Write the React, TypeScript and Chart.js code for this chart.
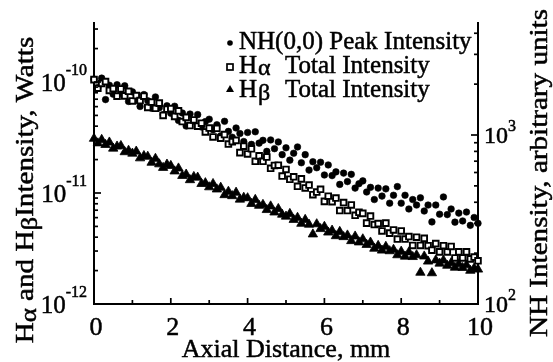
import React, { useEffect, useRef } from 'react';
import { Chart, registerables } from 'chart.js';

Chart.register(...registerables);

// Axial distance, mm
const distanceMm = [
  0, 0.1, 0.2, 0.3, 0.4, 0.5, 0.6, 0.7, 0.8, 0.9,
  1, 1.1, 1.2, 1.3, 1.4, 1.5, 1.6, 1.7, 1.8, 1.9,
  2, 2.1, 2.2, 2.3, 2.4, 2.5, 2.6, 2.7, 2.8, 2.9,
  3, 3.1, 3.2, 3.3, 3.4, 3.5, 3.6, 3.7, 3.8, 3.9,
  4, 4.1, 4.2, 4.3, 4.4, 4.5, 4.6, 4.7, 4.8, 4.9,
  5, 5.1, 5.2, 5.3, 5.4, 5.5, 5.6, 5.7, 5.8, 5.9,
  6, 6.1, 6.2, 6.3, 6.4, 6.5, 6.6, 6.7, 6.8, 6.9,
  7, 7.1, 7.2, 7.3, 7.4, 7.5, 7.6, 7.7, 7.8, 7.9,
  8, 8.1, 8.2, 8.3, 8.4, 8.5, 8.6, 8.7, 8.8, 8.9,
  9, 9.1, 9.2, 9.3, 9.4, 9.5, 9.6, 9.7, 9.8, 9.9,
  10,
];

// NH(0,0) peak intensity, arbitrary units (right axis)
const nhPeak = [
  2140, 1905, 2170, 1620, 1970, 1745, 1985, 1760, 1955, 1580,
  1800, 1605, 1475, 1735, 1595, 1440, 1680, 1450, 1320, 1490,
  1345, 1480, 1220, 1350, 1130, 1330, 1210, 1320, 1115, 1200,
  1240, 1075, 1150, 990, 1205, 1050, 970, 1100, 1020, 915,
  1035, 880, 1045, 895, 930, 800, 935, 830, 910, 765,
  840, 710, 780, 850, 685, 765, 620, 695, 640, 690,
  580, 665, 575, 605, 510, 595, 530, 585, 485, 515,
  535, 460, 490, 415, 485, 435, 480, 395, 440, 495,
  395, 440, 365, 415, 385, 425, 355, 385, 306, 385,
  340, 430, 338, 365, 305, 345, 310, 350, 292, 325,
  300,
];

// H-alpha total intensity, picowatts (left axis)
const hAlphaPW = [
  105, 88, 97, 101, 84, 87, 74.5, 86.5, 75, 82.5,
  67.5, 75.5, 68, 74.5, 59, 66, 58, 64.5, 50, 57,
  57.5, 49, 55, 44, 48, 40.5, 45.5, 40, 42.5, 35.5,
  38.5, 32, 38.3, 31.2, 33.6, 27.6, 29, 29.8, 23.1, 26.4,
  22.5, 25, 19.3, 21.6, 19.3, 21.1, 16.7, 17.7, 17.8, 14.2,
  16.3, 13.3, 14.0, 11.5, 13.4, 11.1, 11.8, 9.65, 10.2, 10.8,
  8.4, 9.35, 8.35, 9.0, 6.95, 8.2, 6.95, 7.8, 6.3, 6.7,
  6.55, 5.35, 6.2, 5.2, 5.3, 4.55, 5.35, 4.35, 4.65, 3.85,
  4.55, 3.85, 4.05, 3.37, 4.0, 3.37, 3.9, 3.35, 3.05, 3.5,
  2.95, 3.35, 2.95, 3.3, 2.6, 2.95, 2.6, 2.95, 2.55, 2.65,
  2.45,
];

// H-beta total intensity, picowatts (left axis)
const hBetaPW = [
  30.9, 28.1, 30.2, 27.2, 28.6, 25.2, 26.3, 26.6, 23.4, 24.1,
  22.7, 23.7, 20.6, 21.6, 21.3, 18.8, 20.4, 18.2, 16.9, 18.1,
  17.6, 15.7, 16.7, 14.3, 14.7, 13.1, 14.0, 13.8, 12.1, 12.3,
  11.3, 12.1, 10.8, 11.2, 9.6, 10.3, 9.4, 10.1, 8.75, 9.1,
  9.0, 8.0, 8.7, 7.7, 7.85, 7.05, 7.6, 6.7, 7.2, 6.4,
  6.15, 6.5, 5.75, 6.0, 5.3, 5.75, 5.2, 4.25, 5.25, 4.75,
  4.98, 4.42, 4.6, 4.1, 4.48, 4.02, 4.16, 3.7, 4.07, 3.6,
  3.84, 3.42, 3.59, 3.16, 3.35, 3.04, 3.29, 3.0, 3.09, 2.76,
  2.97, 2.68, 2.93, 2.66, 2.76, 1.92, 2.69, 2.42, 1.9, 2.48,
  2.32, 2.47, 2.22, 2.34, 2.13, 2.29, 2.12, 2.24, 2.0, 2.1,
  2.05,
];

const PICOWATT = 1e-12;

// Tick labels
const xTickValues = [0, 2, 4, 6, 8, 10];
const xTickLabels = ['0', '2', '4', '6', '8', '10'];
const xMinorTicks = [1, 3, 5, 7, 9];
const leftTickValues = [1e-12, 1e-11, 1e-10];
const leftTickExps = ['-12', '-11', '-10'];
const rightTickValues = [100, 1000];
const rightTickExps = ['2', '3'];

const FONT = '"Liberation Serif", "Times New Roman", serif';
const INK = '#000';

function ink(ctx: CanvasRenderingContext2D, t: string, x: number, y: number) {
  ctx.fillText(t, x, y);
  ctx.strokeText(t, x, y);
}

type Part = { t: string; size: number; dy: number };

function richText(
  ctx: CanvasRenderingContext2D,
  parts: Part[],
  cx: number,
  cy: number,
  angle: number,
  stretch: number
) {
  ctx.save();
  ctx.translate(cx, cy);
  ctx.rotate(angle);
  ctx.scale(stretch, 1);
  let total = 0;
  for (const p of parts) {
    ctx.font = `${p.size}px ${FONT}`;
    total += ctx.measureText(p.t).width;
  }
  let x = -total / 2;
  ctx.textAlign = 'left';
  ctx.textBaseline = 'alphabetic';
  for (const p of parts) {
    ctx.font = `${p.size}px ${FONT}`;
    ink(ctx, p.t, x, p.dy);
    x += ctx.measureText(p.t).width;
  }
  ctx.restore();
}

const decorPlugin = {
  id: 'decor',
  afterDraw(chart: any) {
    const ctx: CanvasRenderingContext2D = chart.ctx;
    const { left, right, bottom } = chart.chartArea;
    const xs = chart.scales.x;
    const yl = chart.scales.y;
    const yr = chart.scales.yR;
    ctx.save();
    ctx.strokeStyle = INK;
    ctx.fillStyle = INK;
    ctx.lineWidth = 1.7;
    const line = (x1: number, y1: number, x2: number, y2: number) => {
      ctx.beginPath();
      ctx.moveTo(x1, y1);
      ctx.lineTo(x2, y2);
      ctx.stroke();
    };
    // x ticks (inward)
    for (const v of xTickValues) {
      const px = xs.getPixelForValue(v);
      line(px, bottom, px, bottom - 6);
    }
    for (const v of xMinorTicks) {
      const px = xs.getPixelForValue(v);
      line(px, bottom, px, bottom - 4);
    }
    // left log ticks
    for (const base of leftTickValues) {
      for (let m = 1; m < 10; m++) {
        const v = m * base;
        if (v > yl.max * 1.0001) break;
        const py = yl.getPixelForValue(v);
        line(left, py, left + (m === 1 ? 7 : 4), py);
      }
    }
    // right log ticks
    for (const base of rightTickValues) {
      for (let m = 1; m < 10; m++) {
        const v = m * base;
        if (v > yr.max * 1.0001) break;
        const py = yr.getPixelForValue(v);
        line(right, py, right - (m === 1 ? 7 : 4), py);
      }
    }

    ctx.lineWidth = 0.5;

    // x tick labels
    ctx.font = `26px ${FONT}`;
    ctx.textAlign = 'center';
    ctx.textBaseline = 'alphabetic';
    xTickValues.forEach((v, i) => {
      ink(ctx, xTickLabels[i], xs.getPixelForValue(v) + 2, 335);
    });

    // left tick labels 10^n
    leftTickValues.forEach((v, i) => {
      const py = yl.getPixelForValue(v);
      ctx.font = `16px ${FONT}`;
      const supW = ctx.measureText(leftTickExps[i]).width;
      ctx.font = `25px ${FONT}`;
      const baseW = ctx.measureText('10').width;
      const rightEdge = left - 7;
      ctx.textAlign = 'left';
      ctx.textBaseline = 'middle';
      ink(ctx, '10', rightEdge - supW - baseW, py + 2);
      ctx.font = `16px ${FONT}`;
      ctx.textBaseline = 'alphabetic';
      ink(ctx, leftTickExps[i], rightEdge - supW, py - 7);
    });

    // right tick labels 10^n
    rightTickValues.forEach((v, i) => {
      const py = yr.getPixelForValue(v);
      ctx.font = `24px ${FONT}`;
      ctx.textAlign = 'left';
      ctx.textBaseline = 'middle';
      const x0 = right + 6;
      ink(ctx, '10', x0, py + 2);
      const baseW = ctx.measureText('10').width;
      ctx.font = `16px ${FONT}`;
      ctx.textBaseline = 'alphabetic';
      ink(ctx, rightTickExps[i], x0 + baseW, py - 4);
    });

    // axis titles
    richText(ctx, [{ t: 'Axial Distance, mm', size: 26, dy: 0 }], 286, 357, 0, 1);
    richText(
      ctx,
      [
        { t: 'H', size: 26, dy: 0 },
        { t: 'α', size: 24, dy: 3 },
        { t: ' and H', size: 26, dy: 0 },
        { t: 'β', size: 24, dy: 4 },
        { t: 'Intensity, Watts', size: 26, dy: 0 },
      ],
      33,
      190,
      -Math.PI / 2,
      1.12
    );
    richText(ctx, [{ t: 'NH Intensity, arbitrary units', size: 26, dy: 0 }], 547, 173, -Math.PI / 2, 1.12);

    // legend
    const lx = 230;
    ctx.beginPath();
    ctx.arc(lx, 43, 2.8, 0, Math.PI * 2);
    ctx.fill();
    ctx.lineWidth = 1.7;
    ctx.strokeRect(lx - 3, 64, 6, 6);
    ctx.beginPath();
    ctx.moveTo(lx, 85);
    ctx.lineTo(lx + 4, 92);
    ctx.lineTo(lx - 4, 92);
    ctx.closePath();
    ctx.fill();

    ctx.lineWidth = 0.5;
    ctx.textAlign = 'left';
    ctx.textBaseline = 'alphabetic';
    ctx.font = `25px ${FONT}`;
    ink(ctx, 'NH(0,0) Peak Intensity', 239, 49);
    ink(ctx, 'H', 239, 73);
    ink(ctx, 'Total Intensity', 285, 73);
    ink(ctx, 'H', 239, 97);
    ink(ctx, 'Total Intensity', 285, 97);
    ctx.font = `24px ${FONT}`;
    ink(ctx, 'α', 258, 75);
    ink(ctx, 'β', 258, 100);
    ctx.restore();
  },
};

export default function App() {
  const canvasRef = useRef<HTMLCanvasElement | null>(null);

  useEffect(() => {
    const canvas = canvasRef.current;
    if (!canvas) return;
    const toPoints = (ys: number[], scale: number) =>
      distanceMm.map((x, i) => ({ x, y: ys[i] * scale }));

    const axisBorder = { display: true, color: INK, width: 2 };
    const chart = new Chart(canvas, {
      type: 'scatter',
      data: {
        datasets: [
          {
            label: 'Hβ Total Intensity',
            data: toPoints(hBetaPW, PICOWATT),
            yAxisID: 'y',
            pointStyle: 'triangle',
            pointRadius: 5.4,
            backgroundColor: INK,
            borderColor: INK,
            borderWidth: 0.8,
            clip: 8,
          },
          {
            label: 'Hα Total Intensity',
            data: toPoints(hAlphaPW, PICOWATT),
            yAxisID: 'y',
            pointStyle: 'rect',
            pointRadius: 4,
            backgroundColor: '#fff',
            borderColor: INK,
            borderWidth: 1.9,
            clip: 8,
          },
          {
            label: 'NH(0,0) Peak Intensity',
            data: toPoints(nhPeak, 1),
            yAxisID: 'yR',
            pointStyle: 'circle',
            pointRadius: 3.3,
            backgroundColor: INK,
            borderColor: INK,
            borderWidth: 0.6,
            clip: 8,
          },
        ] as any,
      },
      options: {
        animation: false,
        responsive: false,
        devicePixelRatio: 1,
        layout: { padding: { left: 94, right: 75, top: 23, bottom: 58 } },
        plugins: { legend: { display: false }, tooltip: { enabled: false } },
        scales: {
          x: {
            type: 'linear',
            min: 0,
            max: 10,
            grid: { display: false, drawTicks: false, tickLength: 0 },
            ticks: { display: false },
            border: axisBorder,
          },
          y: {
            type: 'logarithmic',
            position: 'left',
            min: 1e-12,
            max: 3.4e-10,
            grid: { display: false, drawTicks: false, tickLength: 0 },
            ticks: { display: false },
            border: axisBorder,
          },
          yR: {
            type: 'logarithmic',
            position: 'right',
            min: 100,
            max: 4600,
            grid: { display: false, drawTicks: false, tickLength: 0 },
            ticks: { display: false },
            border: axisBorder,
          },
        },
      } as any,
      plugins: [decorPlugin],
    });
    return () => chart.destroy();
  }, []);

  return (
    <div style={{ position: 'absolute', left: 0, top: 0, width: 553, height: 362, background: '#fff' }}>
      <canvas ref={canvasRef} width={553} height={362} style={{ display: 'block' }} />
    </div>
  );
}
